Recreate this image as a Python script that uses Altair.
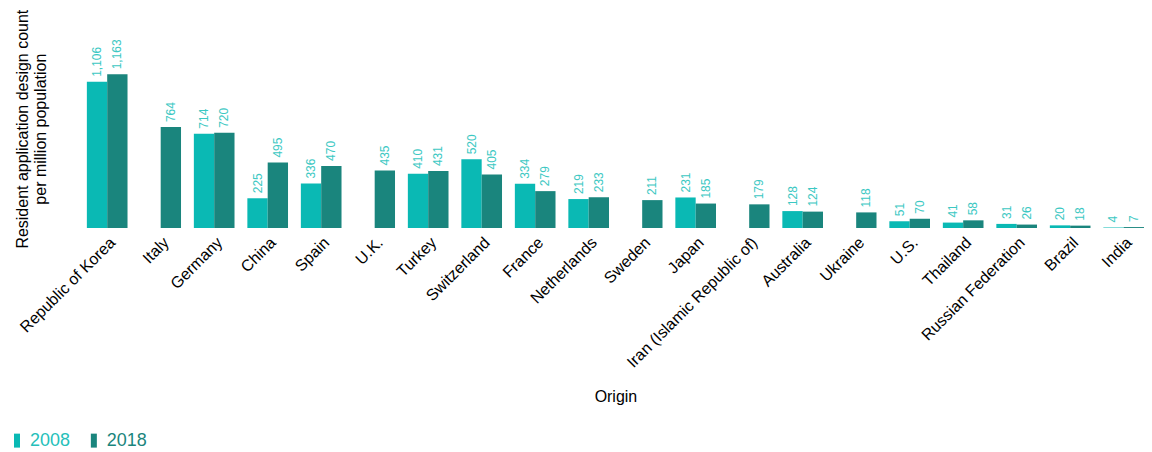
import altair as alt
import pandas as pd

countries = ["Republic of Korea", "Italy", "Germany", "China", "Spain", "U.K.", "Turkey",
             "Switzerland", "France", "Netherlands", "Sweden", "Japan",
             "Iran (Islamic Republic of)", "Australia", "Ukraine", "U.S.", "Thailand",
             "Russian Federation", "Brazil", "India"]
v2008 = [1106, None, 714, 225, 336, None, 410, 520, 334, 219, None, 231, None, 128, None,
         51, 41, 31, 20, 4]
v2018 = [1163, 764, 720, 495, 470, 435, 431, 405, 279, 233, 211, 185, 179, 124, 118,
         70, 58, 26, 18, 7]
years = ["2008", "2018"]
colors = ["#0ab9b4", "#1a857d"]

rows = []
for c, a, b in zip(countries, v2008, v2018):
    if a is not None:
        rows.append({"Origin": c, "Year": "2008", "Value": a})
    rows.append({"Origin": c, "Year": "2018", "Value": b})
df = pd.DataFrame(rows)

FONT = "Liberation Sans"

x = alt.X("Origin:N", sort=countries,
          scale=alt.Scale(paddingInner=0.24, paddingOuter=0),
          axis=alt.Axis(title="Origin", labelAngle=315, labelFontSize=16, labelColor="#000000",
                        titleFontSize=16, titleFontWeight="normal", titleColor="#000000",
                        domain=False, ticks=False, labelPadding=6, titlePadding=18,
                        labelFont=FONT, titleFont=FONT))
xo = alt.XOffset("Year:N", sort=years, scale=alt.Scale(domain=years, paddingInner=0, paddingOuter=0))
y = alt.Y("Value:Q", scale=alt.Scale(domain=[0, 1503], nice=False),
          axis=alt.Axis(title=["Resident application design count", "per million population"],
                        labels=False, ticks=False, domain=False, grid=False,
                        titleFontSize=16, titleFontWeight="normal", titleColor="#000000",
                        titlePadding=38, titleFont=FONT))

bars = alt.Chart(df).mark_bar().encode(
    x=x, xOffset=xo, y=y,
    color=alt.Color("Year:N", sort=years, scale=alt.Scale(domain=years, range=colors),
                    legend=alt.Legend(title=None, orient="none", direction="horizontal",
                                      legendX=-79, legendY=403,
                                      symbolType="M-0.43,-1H0.43V1H-0.43Z", symbolSize=196,
                                      symbolStrokeWidth=0,
                                      labelFontSize=18, labelFont=FONT,
                                      labelColor={"expr": "datum.label == '2008' ? '#26bfba' : '#1a857d'"},
                                      columnPadding=14, labelOffset=4))
)

labels = alt.Chart(df).mark_text(angle=270, align="left", baseline="middle", dx=5,
                                 fontSize=12, font=FONT, color="#3cc8c3").encode(
    x=x, xOffset=xo, y=y,
    text=alt.Text("Value:Q", format=",")
)

chart = (bars + labels).properties(width=1059, height=199, padding=0).configure_view(stroke=None)
chart.save("out.html", embed_options={"renderer": "svg", "actions": False})
